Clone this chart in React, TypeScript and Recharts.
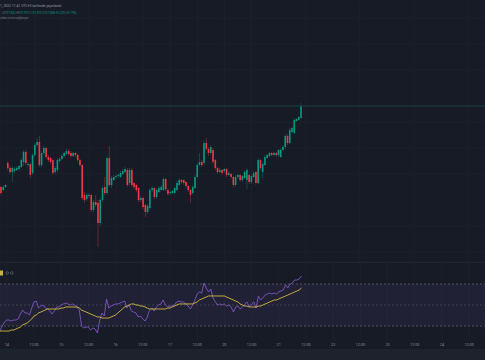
import { Bar, CartesianGrid, ComposedChart, Line, ReferenceArea, ReferenceLine, XAxis, YAxis } from "recharts";

// hourly candles, weekend skipped; k = 0 is 14th 00:00, three bars of the 13th show at the left
const days = ["14", "15", "16", "17", "20", "21", "22", "23", "24"];
const firstSlot = -3;
const slotCount = 215;

const opens = [
  107.455, 107.44, 107.455,
  107.575, 107.55, 107.53, 107.535, 107.54, 107.545, 107.555, 107.58, 107.63, 107.565,
  107.57, 107.525, 107.615, 107.665, 107.68, 107.565, 107.625, 107.65, 107.605, 107.6,
  107.59, 107.53, 107.54, 107.585, 107.595, 107.61, 107.62, 107.635, 107.625, 107.61,
  107.625, 107.615, 107.59, 107.565, 107.415, 107.395, 107.41, 107.415, 107.34, 107.38,
  107.375, 107.275, 107.39, 107.455, 107.425, 107.6, 107.465, 107.49, 107.505, 107.51,
  107.505, 107.52, 107.53, 107.54, 107.475, 107.54, 107.475, 107.465, 107.45, 107.39,
  107.4, 107.365, 107.33, 107.35, 107.44, 107.45, 107.405, 107.43, 107.44, 107.44,
  107.495, 107.44, 107.425, 107.425, 107.425, 107.44, 107.465, 107.49, 107.49, 107.48,
  107.46, 107.44, 107.425, 107.45, 107.505, 107.565, 107.58, 107.575, 107.675, 107.645,
  107.625, 107.64, 107.59, 107.55, 107.53, 107.54, 107.535, 107.545, 107.515, 107.52,
  107.505, 107.465, 107.505, 107.515, 107.49, 107.5, 107.49, 107.515, 107.48, 107.505,
  107.53, 107.475, 107.59, 107.53, 107.565, 107.6, 107.61, 107.625, 107.615, 107.625,
  107.615, 107.605, 107.64, 107.655, 107.71, 107.675, 107.73, 107.725, 107.785, 107.79, 107.8,
];
const highs = [
  107.46, 107.465, 107.47,
  107.585, 107.56, 107.56, 107.555, 107.56, 107.565, 107.6, 107.64, 107.64, 107.58,
  107.575, 107.625, 107.675, 107.7, 107.71, 107.635, 107.66, 107.655, 107.615, 107.605,
  107.595, 107.56, 107.6, 107.605, 107.62, 107.63, 107.645, 107.645, 107.635, 107.63,
  107.63, 107.62, 107.595, 107.57, 107.43, 107.425, 107.425, 107.42, 107.39, 107.415,
  107.39, 107.4, 107.46, 107.505, 107.61, 107.66, 107.51, 107.515, 107.52, 107.525,
  107.535, 107.545, 107.555, 107.55, 107.55, 107.55, 107.48, 107.47, 107.455, 107.41,
  107.405, 107.37, 107.37, 107.45, 107.46, 107.455, 107.445, 107.46, 107.465, 107.505,
  107.5, 107.45, 107.435, 107.44, 107.455, 107.485, 107.5, 107.495, 107.495, 107.485,
  107.465, 107.445, 107.465, 107.515, 107.575, 107.625, 107.59, 107.685, 107.7, 107.655,
  107.665, 107.65, 107.595, 107.555, 107.55, 107.545, 107.55, 107.55, 107.535, 107.525,
  107.51, 107.515, 107.52, 107.52, 107.515, 107.54, 107.55, 107.52, 107.515, 107.535,
  107.535, 107.6, 107.595, 107.58, 107.615, 107.62, 107.63, 107.63, 107.63, 107.63,
  107.645, 107.65, 107.665, 107.72, 107.72, 107.75, 107.755, 107.8, 107.8, 107.81, 107.875,
];
const lows = [
  107.415, 107.435, 107.45,
  107.54, 107.52, 107.48, 107.525, 107.535, 107.535, 107.55, 107.56, 107.565, 107.555,
  107.5, 107.515, 107.605, 107.655, 107.555, 107.555, 107.615, 107.595, 107.58, 107.57,
  107.515, 107.52, 107.53, 107.575, 107.59, 107.6, 107.615, 107.61, 107.6, 107.605,
  107.605, 107.58, 107.555, 107.39, 107.375, 107.385, 107.4, 107.33, 107.33, 107.355,
  107.155, 107.26, 107.38, 107.415, 107.415, 107.455, 107.45, 107.485, 107.495, 107.5,
  107.5, 107.515, 107.525, 107.455, 107.465, 107.455, 107.445, 107.43, 107.38, 107.38,
  107.345, 107.305, 107.32, 107.34, 107.43, 107.395, 107.395, 107.425, 107.435, 107.435,
  107.435, 107.41, 107.415, 107.42, 107.42, 107.435, 107.46, 107.47, 107.465, 107.45,
  107.43, 107.375, 107.415, 107.445, 107.5, 107.56, 107.555, 107.565, 107.635, 107.61,
  107.615, 107.57, 107.54, 107.52, 107.525, 107.515, 107.525, 107.505, 107.51, 107.495,
  107.455, 107.46, 107.495, 107.48, 107.48, 107.495, 107.445, 107.47, 107.47, 107.5,
  107.465, 107.47, 107.54, 107.5, 107.56, 107.595, 107.605, 107.61, 107.61, 107.605,
  107.605, 107.6, 107.635, 107.645, 107.665, 107.67, 107.725, 107.72, 107.78, 107.785, 107.795,
];
const closes = [
  107.425, 107.455, 107.465,
  107.55, 107.53, 107.55, 107.545, 107.55, 107.56, 107.59, 107.63, 107.575, 107.57,
  107.515, 107.615, 107.665, 107.68, 107.565, 107.625, 107.65, 107.605, 107.59, 107.58,
  107.525, 107.55, 107.59, 107.595, 107.61, 107.625, 107.635, 107.62, 107.61, 107.625,
  107.615, 107.59, 107.565, 107.4, 107.39, 107.415, 107.415, 107.34, 107.38, 107.365,
  107.275, 107.39, 107.45, 107.425, 107.6, 107.465, 107.5, 107.505, 107.51, 107.515,
  107.525, 107.535, 107.545, 107.465, 107.54, 107.465, 107.455, 107.44, 107.39, 107.4,
  107.355, 107.33, 107.36, 107.44, 107.45, 107.405, 107.44, 107.45, 107.455, 107.495,
  107.445, 107.42, 107.43, 107.435, 107.45, 107.475, 107.49, 107.48, 107.475, 107.46,
  107.44, 107.415, 107.455, 107.505, 107.565, 107.58, 107.565, 107.675, 107.645, 107.625,
  107.655, 107.58, 107.55, 107.53, 107.54, 107.525, 107.545, 107.515, 107.525, 107.505,
  107.465, 107.505, 107.515, 107.49, 107.51, 107.53, 107.54, 107.48, 107.51, 107.525,
  107.475, 107.59, 107.55, 107.57, 107.605, 107.615, 107.625, 107.615, 107.625, 107.615,
  107.64, 107.64, 107.655, 107.71, 107.675, 107.74, 107.75, 107.79, 107.795, 107.805, 107.86,
];
const rsi = [
  25.2, 30.0, 33.8,
  35.7, 35.7, 34.8, 35.7, 35.7, 36.7, 41.4, 45.2, 42.4, 42.4,
  40.5, 47.1, 52.9, 53.8, 47.1, 49.0, 50.0, 47.1, 46.2, 44.3,
  41.4, 44.3, 48.1, 48.1, 50.0, 51.0, 51.9, 51.0, 50.0, 51.0,
  50.0, 48.1, 45.2, 30.0, 28.1, 29.0, 29.0, 26.2, 28.1, 27.1,
  23.3, 35.7, 42.4, 39.5, 55.7, 47.1, 49.0, 50.0, 51.0, 51.0,
  51.9, 52.9, 53.8, 47.1, 50.0, 44.3, 43.3, 42.4, 38.6, 39.5,
  36.7, 34.8, 38.6, 45.2, 47.1, 44.3, 48.1, 50.0, 51.0, 54.8,
  50.0, 48.1, 49.0, 49.0, 50.0, 52.9, 53.8, 52.9, 52.9, 51.0,
  49.0, 46.2, 50.0, 54.8, 60.5, 62.4, 61.4, 71.0, 66.2, 62.4,
  65.2, 56.7, 52.9, 50.0, 51.0, 50.0, 51.0, 49.0, 50.0, 48.1,
  43.3, 48.1, 49.0, 46.2, 48.1, 51.0, 52.9, 48.1, 51.0, 52.9,
  47.1, 58.6, 54.8, 56.7, 59.5, 60.5, 61.4, 60.5, 61.4, 60.5,
  62.4, 63.3, 64.3, 69.0, 66.2, 70.0, 71.0, 73.8, 73.8, 74.8, 77.6,
];
const rsiMa = [
  25.2, 25.2, 25.2,
  25.2, 25.2, 26.2, 26.2, 27.1, 28.1, 29.0, 31.0, 31.9, 32.9,
  34.8, 36.7, 39.5, 40.5, 42.4, 43.3, 44.3, 45.2, 46.2, 46.2,
  46.2, 46.2, 46.2, 46.2, 47.1, 47.1, 48.1, 48.1, 48.1, 48.1,
  48.1, 48.1, 47.1, 45.2, 44.3, 43.3, 42.4, 41.4, 40.5, 39.5,
  38.6, 38.6, 37.6, 37.6, 37.6, 37.6, 38.6, 39.5, 40.5, 42.4,
  44.3, 46.2, 48.1, 49.0, 50.0, 51.0, 51.0, 50.0, 50.0, 49.0,
  49.0, 48.1, 47.1, 46.2, 46.2, 46.2, 46.2, 46.2, 46.2, 46.2,
  46.2, 47.1, 47.1, 48.1, 49.0, 50.0, 51.0, 51.0, 51.0, 51.0,
  51.0, 51.0, 51.0, 51.9, 52.9, 54.8, 55.7, 56.7, 57.6, 58.6,
  58.6, 58.6, 58.6, 58.6, 58.6, 58.6, 58.6, 57.6, 56.7, 55.7,
  54.8, 53.8, 52.9, 51.0, 50.0, 49.0, 49.0, 48.1, 48.1, 48.1,
  48.1, 49.0, 49.0, 50.0, 51.0, 51.9, 52.9, 53.8, 54.8, 54.8,
  55.7, 56.7, 57.6, 58.6, 59.5, 60.5, 61.4, 62.4, 63.3, 64.3, 66.2,
];
const priceGrid = [107.13, 107.26, 107.39, 107.52, 107.65, 107.78, 107.91, 108.04, 108.17, 108.3];

const BG = "#171b26";
const GRID = "#1d222d";
const UP = "#089981";
const DOWN = "#f23645";

const rows = Array.from({ length: slotCount }, (_, i) => {
  const has = i < opens.length;
  return {
    k: firstSlot + i,
    open: has ? opens[i] : null,
    high: has ? highs[i] : null,
    low: has ? lows[i] : null,
    close: has ? closes[i] : null,
    range: has ? [lows[i], highs[i]] : null,
    rsi: has ? rsi[i] : null,
    ma: has ? rsiMa[i] : null,
  };
});

const ticks = rows.filter((r) => r.k >= 0 && r.k % 12 === 0).map((r) => r.k);
const tickLabel = (k: number) => (k % 24 === 0 ? days[k / 24] : "12:00");
const lastClose = closes[closes.length - 1];

const Candle = (props: any) => {
  const { x, y, width, height, payload } = props;
  if (!payload || payload.open == null) return null;
  const { open, close, high, low } = payload;
  const top = Math.min(y, y + height);
  const bottom = Math.max(y, y + height);
  const s = high === low ? 0 : (bottom - top) / (high - low);
  const py = (v: number) => top + (high - v) * s;
  const up = close >= open;
  const cx = x + width / 2;
  const bw = 1.6;
  const bTop = py(Math.max(open, close));
  const bH = Math.max(py(Math.min(open, close)) - bTop, 0.8);
  return (
    <g>
      <rect x={cx - 0.4} y={top} width={0.8} height={bottom - top} fill={up ? UP : DOWN} fillOpacity={0.45} />
      <rect x={cx - bw / 2} y={bTop} width={bw} height={bH} fill={up ? UP : DOWN} />
    </g>
  );
};

export default function App() {
  return (
    <div style={{ position: "fixed", left: 0, top: 0, width: 485, height: 360, background: BG, overflow: "hidden" }}>
      <ComposedChart width={485} height={262} data={rows} margin={{ top: 0, right: 0, bottom: 0, left: 0 }} barCategoryGap={0}>
        <CartesianGrid stroke={GRID} strokeWidth={0.8} />
        <XAxis dataKey="k" type="category" ticks={ticks} hide />
        <YAxis type="number" domain={[107.08, 108.39]} ticks={priceGrid} hide allowDataOverflow />
        <ReferenceLine y={lastClose} stroke="#1b3f40" strokeWidth={1} />
        <Bar dataKey="range" shape={Candle} isAnimationActive={false} />
      </ComposedChart>
      <div style={{ height: 1, background: "#222632" }} />
      <div style={{ position: "absolute", left: 0, top: 262 }}>
        <ComposedChart width={485} height={87} data={rows} margin={{ top: 0, right: 0, bottom: 0, left: 0 }}>
          <CartesianGrid stroke={GRID} strokeWidth={0.8} horizontal={false} />
          <XAxis
            dataKey="k"
            type="category"
            ticks={ticks}
            interval={0}
            tickFormatter={tickLabel}
            axisLine={false}
            tickLine={false}
            tickSize={0}
            height={9}
            tickMargin={3.2}
            tick={{ fontSize: 3.8, fill: "#8b8e98", fontFamily: "Roboto" }}
          />
          <YAxis type="number" domain={[16.67, 90.95]} hide allowDataOverflow />
          <ReferenceArea y1={30} y2={70} fill="#7e57c2" fillOpacity={0.1} stroke="none" />
          <ReferenceLine y={70} stroke="#787b86" strokeOpacity={0.55} strokeDasharray="2 2" />
          <ReferenceLine y={50} stroke="#787b86" strokeOpacity={0.35} strokeDasharray="2 2" />
          <ReferenceLine y={30} stroke="#787b86" strokeOpacity={0.55} strokeDasharray="2 2" />
          <Line dataKey="rsi" stroke="#7e57c2" strokeWidth={0.9} dot={false} isAnimationActive={false} />
          <Line dataKey="ma" stroke="#d8bd3f" strokeWidth={0.9} dot={false} isAnimationActive={false} />
        </ComposedChart>
      </div>
      <div style={{ position: "absolute", left: 0, top: 349, width: 485, height: 11, background: "#1e222d" }} />
      <svg width={485} height={360} style={{ position: "absolute", left: 0, top: 0, pointerEvents: "none" }}>
        <g fontFamily="Roboto">
          <text x={0} y={6.5} fontSize={3.4} fill="#9a9da6">1, 2022 11:41 UTC+3 tarihinde yayınlandı</text>
          <text x={1.5} y={14} fontSize={2.9}>
            <tspan fill="#787b86">t </tspan>
            <tspan fill="#787b86">O</tspan><tspan fill={UP}>107.862 </tspan>
            <tspan fill="#787b86">H</tspan><tspan fill={UP}>107.979 </tspan>
            <tspan fill="#787b86">L</tspan><tspan fill={UP}>107.810 </tspan>
            <tspan fill="#787b86">C</tspan><tspan fill={UP}>107.858 +0.220 (+0.19%)</tspan>
          </text>
          <text x={0} y={18.6} fontSize={2.9} fill="#787b86">ından verisi sağlanıyor.</text>
        </g>
        <rect x={0} y={270.5} width={3} height={5} fill="#c9b23e" />
        <circle cx={7.3} cy={273} r={1.3} fill="none" stroke="#6a6d78" strokeWidth={0.6} />
        <circle cx={11.8} cy={273} r={1.3} fill="none" stroke="#6a6d78" strokeWidth={0.6} />
      </svg>
    </div>
  );
}
